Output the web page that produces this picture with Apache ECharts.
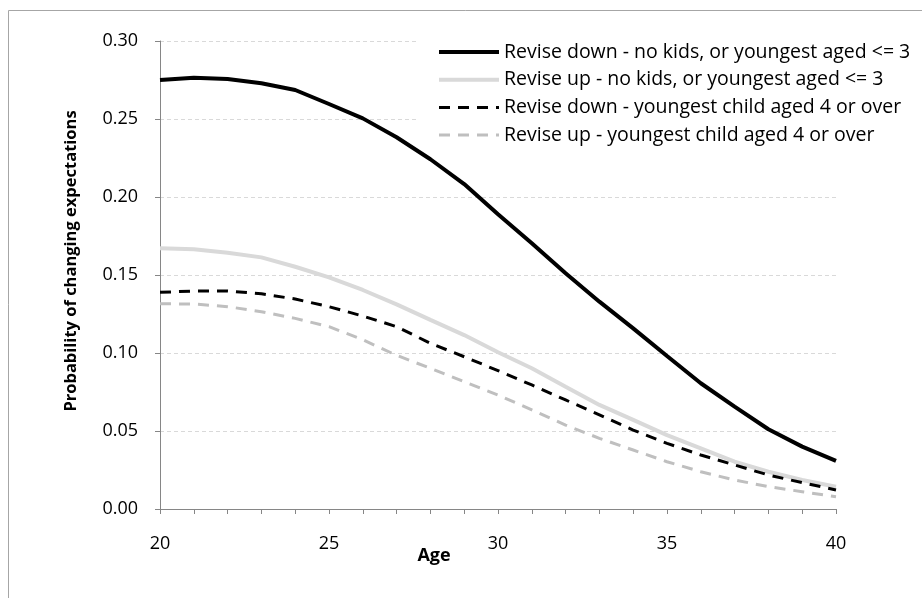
<!DOCTYPE html>
<html>
<head>
<meta charset="utf-8">
<script src="https://cdn.jsdelivr.net/npm/echarts@6/dist/echarts.min.js"></script>
<style>
html,body{margin:0;padding:0;background:#fff;}
#chart{width:922px;height:598px;}
</style>
</head>
<body>
<div id="chart"></div>
<script>
var ages = [20,21,22,23,24,25,26,27,28,29,30,31,32,33,34,35,36,37,38,39,40];
var downNoKids = [0.275,0.2765,0.2756,0.2729,0.2686,0.2596,0.2504,0.2383,0.2242,0.2083,0.1890,0.1703,0.1511,0.1329,0.1158,0.0981,0.0806,0.0656,0.0511,0.0400,0.0308];
var upNoKids = [0.1671,0.1665,0.1643,0.1613,0.1553,0.1485,0.1404,0.1312,0.1212,0.1115,0.1005,0.0902,0.0784,0.0667,0.0571,0.0474,0.0389,0.0303,0.0239,0.0186,0.0143];
var downOlder = [0.1389,0.1397,0.1397,0.1380,0.1346,0.1297,0.1237,0.1169,0.1062,0.0976,0.0887,0.0795,0.0699,0.0603,0.0506,0.0421,0.0346,0.0282,0.0218,0.0169,0.0122];
var upOlder = [0.1316,0.1314,0.1297,0.1265,0.1222,0.1169,0.1085,0.0985,0.0902,0.0816,0.0731,0.0635,0.0538,0.0453,0.0378,0.0303,0.0239,0.0186,0.0143,0.0111,0.0079];
var seriesNames = [
  'Revise down - no kids, or youngest aged <= 3',
  'Revise up - no kids, or youngest aged <= 3',
  'Revise down - youngest child aged 4 or over',
  'Revise up - youngest child aged 4 or over'
];
var yTicks = [0, 0.05, 0.10, 0.15, 0.20, 0.25, 0.30];
var xLabelStep = 5;

function pairs(vals){ return ages.map(function(a,i){ return [a, vals[i]]; }); }

var FONT = '"Open Sans", Lato, sans-serif';
var styles = [
  {color: '#000', width: 4, type: 'solid'},
  {color: '#d9d9d9', width: 4, type: 'solid'},
  {color: '#000', width: 3, type: [11, 8]},
  {color: '#bfbfbf', width: 3, type: [11, 8]}
];
var chart = echarts.init(document.getElementById('chart'), null, {renderer:'canvas'});
var option = {
  animation: false,
  backgroundColor: '#fff',
  graphic: [{
    type: 'rect', z: -10, silent: true,
    shape: {x: 8.5, y: 10.5, width: 940, height: 620},
    style: {fill: 'none', stroke: '#a6a6a6', lineWidth: 1}
  }],
  grid: {left: 160, right: 86, top: 41, bottom: 89, containLabel: false},
  legend: {
    orient: 'vertical',
    left: 417, top: 36,
    padding: [6, 6, 6, 20],
    backgroundColor: '#fff',
    itemWidth: 60, itemHeight: 14, itemGap: 7.7,
    itemStyle: {opacity: 0},
    textStyle: {fontFamily: FONT, fontSize: 19.5, lineHeight: 20, color: '#000'},
    data: seriesNames.map(function(n, i){
      return {name: n, lineStyle: {color: styles[i].color, width: styles[i].width, type: styles[i].type}, itemStyle: {opacity: 0}};
    })
  },
  xAxis: {
    type: 'value', min: ages[0], max: ages[ages.length-1], interval: xLabelStep,
    name: 'Age', nameLocation: 'middle', nameGap: 38, nameMoveOverlap: false,
    nameTextStyle: {fontFamily: FONT, fontSize: 18, fontWeight: 'bold', color: '#000', padding: [0, 128, 0, 0]},
    axisLine: {show: true, lineStyle: {color: '#868686', width: 1}},
    axisTick: {show: true, length: 5, lineStyle: {color: '#868686'}},
    minorTick: {show: true, splitNumber: 5, length: 5, lineStyle: {color: '#868686'}},
    splitLine: {show: false},
    axisLabel: {fontFamily: FONT, fontSize: 18, color: '#000', margin: 26}
  },
  yAxis: {
    type: 'value', min: yTicks[0], max: yTicks[yTicks.length-1], interval: 0.05,
    name: 'Probability of changing expectations', nameLocation: 'middle', nameGap: 80, nameMoveOverlap: false,
    nameTextStyle: {fontFamily: FONT, fontSize: 16.5, fontWeight: 'bold', color: '#000', padding: [0, 0, 0, 28]},
    axisLine: {show: true, lineStyle: {color: '#868686', width: 1}},
    axisTick: {show: true, length: 5, lineStyle: {color: '#868686'}},
    splitLine: {show: true, lineStyle: {color: '#d9d9d9', type: [4, 3], width: 1}},
    axisLabel: {fontFamily: FONT, fontSize: 18, color: '#000', margin: 22,
      formatter: function(v){ return v.toFixed(2); }}
  },
  series: [
    {name: seriesNames[0], type: 'line', data: pairs(downNoKids), showSymbol: false, symbol: 'none',
     lineStyle: styles[0], itemStyle: {color: styles[0].color}, z: 5},
    {name: seriesNames[1], type: 'line', data: pairs(upNoKids), showSymbol: false, symbol: 'none',
     lineStyle: styles[1], itemStyle: {color: styles[1].color}, z: 2},
    {name: seriesNames[2], type: 'line', data: pairs(downOlder), showSymbol: false, symbol: 'none',
     lineStyle: styles[2], itemStyle: {color: styles[2].color}, z: 4},
    {name: seriesNames[3], type: 'line', data: pairs(upOlder), showSymbol: false, symbol: 'none',
     lineStyle: styles[3], itemStyle: {color: styles[3].color}, z: 3}
  ]
};
chart.setOption(option);
</script>
</body>
</html>
